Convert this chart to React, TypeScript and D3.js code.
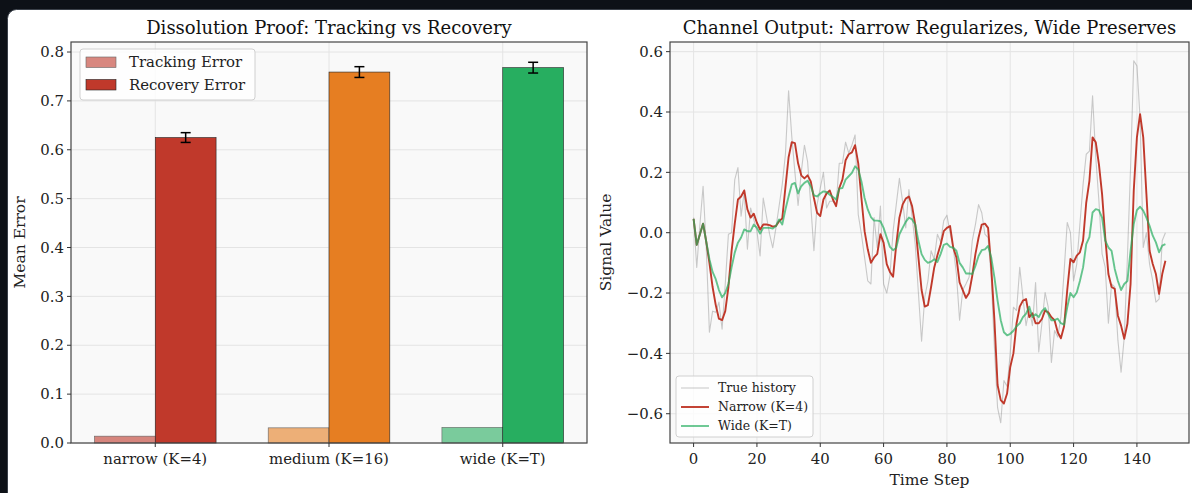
import React from "react";
import * as d3 from "d3";

// ---------- Data ----------
const channels = ["narrow (K=4)", "medium (K=16)", "wide (K=T)"];
const trackingError = [0.014, 0.031, 0.032];
const recoveryError = [0.625, 0.759, 0.768];
const recoveryStd = [0.010, 0.011, 0.011];
const channelColors = ["#c0392b", "#e67e22", "#27ae60"];
const barYTicks = [0, 0.1, 0.2, 0.3, 0.4, 0.5, 0.6, 0.7, 0.8];

const trueHistory = [
  0.05, -0.115, 0.027, 0.154, -0.05, -0.33, -0.26, -0.264, -0.23, -0.32,
  -0.17, -0.005, 0.0, 0.176, 0.216, 0.055, 0.137, -0.055, 0.082, 0.044,
  0.005, -0.077, 0.115, 0.055, -0.005, -0.05, 0.016, 0.088, 0.16, 0.26,
  0.47, 0.32, 0.2, 0.09, 0.2, 0.29, 0.236, 0.093, -0.06, 0.093,
  0.148, 0.2, 0.082, 0.104, 0.104, 0.093, 0.23, 0.23, 0.3, 0.264,
  0.29, 0.324, 0.06, -0.005, -0.082, -0.16, -0.17, 0.05, -0.05, 0.088,
  -0.17, -0.2, -0.143, 0.005, 0.093, 0.18, 0.104, 0.016, 0.143, 0.055,
  -0.04, -0.2, -0.36, -0.214, -0.16, -0.06, -0.088, -0.005, -0.03, 0.04,
  0.058, 0.0, -0.05, -0.137, -0.29, -0.19, -0.17, -0.148, -0.027, 0.027,
  0.093, 0.066, -0.005, -0.016, -0.148, -0.38, -0.58, -0.63, -0.49, -0.51,
  -0.4, -0.247, -0.258, -0.115, -0.214, -0.308, -0.253, -0.308, -0.165, -0.395,
  -0.3, -0.198, -0.247, -0.43, -0.324, -0.346, -0.28, -0.13, 0.034, 0.0,
  -0.16, -0.104, 0.029, 0.16, 0.26, 0.27, 0.454, 0.25, 0.106, -0.07,
  -0.115, -0.3, -0.17, -0.18, -0.357, -0.462, -0.347, -0.082, 0.216, 0.57,
  0.553, 0.38, -0.049, 0.0, -0.104, -0.16, -0.23, -0.22, -0.026, 0.0,
];

const narrowOutput = [
  0.046, -0.04, -0.005, 0.03, -0.03, -0.1, -0.18, -0.24, -0.285, -0.29,
  -0.26, -0.18, -0.06, 0.03, 0.11, 0.12, 0.14, 0.077, 0.05, 0.063,
  0.033, 0.01, 0.027, 0.027, 0.025, 0.02, 0.022, 0.038, 0.047, 0.15,
  0.25, 0.3, 0.297, 0.23, 0.19, 0.18, 0.19, 0.17, 0.115, 0.066,
  0.055, 0.11, 0.13, 0.14, 0.11, 0.088, 0.148, 0.176, 0.24, 0.26,
  0.266, 0.29, 0.23, 0.115, 0.005, -0.055, -0.1, -0.082, -0.07, -0.005,
  -0.033, -0.104, -0.13, -0.146, -0.04, 0.05, 0.093, 0.113, 0.12, 0.088,
  0.027, -0.082, -0.19, -0.245, -0.24, -0.18, -0.115, -0.075, -0.04, 0.005,
  0.016, 0.022, -0.05, -0.082, -0.165, -0.19, -0.216, -0.2, -0.143, -0.071,
  -0.016, 0.027, 0.03, 0.016, -0.115, -0.29, -0.505, -0.555, -0.566, -0.533,
  -0.445, -0.4, -0.3, -0.245, -0.225, -0.22, -0.28, -0.267, -0.3, -0.3,
  -0.286, -0.258, -0.264, -0.28, -0.29, -0.33, -0.35, -0.31, -0.19, -0.087,
  -0.098, -0.076, -0.065, -0.026, 0.1, 0.172, 0.316, 0.3, 0.227, 0.128,
  -0.015, -0.137, -0.18, -0.186, -0.275, -0.308, -0.352, -0.302, -0.17, 0.139,
  0.316, 0.393, 0.316, 0.128, -0.06, -0.104, -0.137, -0.203, -0.137, -0.093,
];

const wideOutput = [
  0.046, -0.04, -0.005, 0.03, -0.03, -0.088, -0.13, -0.154, -0.19, -0.214,
  -0.2, -0.17, -0.115, -0.066, -0.033, -0.016, 0.011, 0.005, 0.005, 0.027,
  0.016, -0.003, 0.016, 0.016, 0.016, 0.014, 0.022, 0.044, 0.027, 0.077,
  0.12, 0.16, 0.165, 0.13, 0.154, 0.165, 0.172, 0.154, 0.124, 0.12,
  0.13, 0.137, 0.135, 0.126, 0.118, 0.11, 0.146, 0.148, 0.176, 0.187,
  0.198, 0.22, 0.21, 0.17, 0.115, 0.077, 0.052, 0.04, 0.04, 0.038,
  0.016, -0.016, -0.047, -0.058, -0.05, -0.005, 0.016, 0.036, 0.05, 0.044,
  0.027, -0.027, -0.071, -0.09, -0.1, -0.096, -0.088, -0.097, -0.071, -0.04,
  -0.036, -0.047, -0.05, -0.06, -0.1, -0.115, -0.135, -0.135, -0.137, -0.11,
  -0.077, -0.058, -0.055, -0.044, -0.082, -0.148, -0.225, -0.29, -0.33, -0.34,
  -0.335, -0.325, -0.31, -0.3, -0.28, -0.268, -0.245, -0.28, -0.27, -0.28,
  -0.26, -0.25, -0.27, -0.29, -0.29, -0.285, -0.3, -0.305, -0.247, -0.2,
  -0.214, -0.198, -0.16, -0.115, -0.038, -0.015, 0.067, 0.078, 0.075, 0.05,
  -0.026, -0.049, -0.06, -0.12, -0.16, -0.19, -0.17, -0.16, -0.06, 0.029,
  0.075, 0.086, 0.073, 0.05, 0.023, -0.01, -0.032, -0.065, -0.043, -0.038,
];

const signalYTicks = [-0.6, -0.4, -0.2, 0.0, 0.2, 0.4, 0.6];
const timeTicks = [0, 20, 40, 60, 80, 100, 120, 140];

const W = 1192;
const H = 493;
const FONT = "'DejaVu Serif', serif";
const TICK_FS = 14.9;
const LABEL_FS = 15.5;
const TITLE_FS = 18;

const fmtNeg = (v: number, d: number) => {
  const s = Math.abs(v).toFixed(d);
  return v < -1e-9 ? "\u2212" + s : s;
};

function BarPanel() {
  const left = 71, right = 587, top = 42, bottom = 443;
  const x = d3.scaleLinear().domain([-0.485, 2.485]).range([left, right]);
  const y = d3.scaleLinear().domain([0, 0.8205]).range([bottom, top]);
  const bw = x(0.35) - x(0);
  const idx = channels.map((_, i) => i);
  return (
    <g>
      <rect x={left} y={top} width={right - left} height={bottom - top} fill="#f9f9f9" />
      {barYTicks.map((t) => (
        <line key={"gy" + t} x1={left} x2={right} y1={y(t)} y2={y(t)} stroke="#e4e4e4" strokeWidth={1} />
      ))}
      {idx.map((i) => (
        <line key={"gx" + i} x1={x(i)} x2={x(i)} y1={top} y2={bottom} stroke="#e4e4e4" strokeWidth={1} />
      ))}
      {idx.map((i) => (
        <g key={"b" + i}>
          <rect
            x={x(i - 0.35)}
            y={y(trackingError[i])}
            width={bw}
            height={y(0) - y(trackingError[i])}
            fill={channelColors[i]}
            stroke="#000"
            strokeWidth={0.6}
            opacity={0.6}
          />
          <rect
            x={x(i)}
            y={y(recoveryError[i])}
            width={bw}
            height={y(0) - y(recoveryError[i])}
            fill={channelColors[i]}
            stroke="#222"
            strokeWidth={0.6}
          />
          <line
            x1={x(i + 0.175)}
            x2={x(i + 0.175)}
            y1={y(recoveryError[i] - recoveryStd[i])}
            y2={y(recoveryError[i] + recoveryStd[i])}
            stroke="#000"
            strokeWidth={1.5}
          />
          {[-1, 1].map((s) => (
            <line
              key={s}
              x1={x(i + 0.175) - 5}
              x2={x(i + 0.175) + 5}
              y1={y(recoveryError[i] + s * recoveryStd[i])}
              y2={y(recoveryError[i] + s * recoveryStd[i])}
              stroke="#000"
              strokeWidth={1.5}
            />
          ))}
        </g>
      ))}
      <rect x={left} y={top} width={right - left} height={bottom - top} fill="none" stroke="#444" strokeWidth={1.2} />
      {barYTicks.map((t) => (
        <g key={"ty" + t}>
          <line x1={left - 4} x2={left} y1={y(t)} y2={y(t)} stroke="#333" strokeWidth={1} />
          <text x={left - 7} y={y(t)} dy="0.35em" textAnchor="end" fontSize={TICK_FS} fill="#222">
            {t.toFixed(1)}
          </text>
        </g>
      ))}
      {idx.map((i) => (
        <g key={"tx" + i}>
          <line x1={x(i)} x2={x(i)} y1={bottom} y2={bottom + 4} stroke="#333" strokeWidth={1} />
          <text x={x(i)} y={bottom + 21} textAnchor="middle" fontSize={TICK_FS} fill="#222">
            {channels[i]}
          </text>
        </g>
      ))}
      <text
        transform={`translate(${25},${(top + bottom) / 2}) rotate(-90)`}
        textAnchor="middle"
        fontSize={LABEL_FS}
        fill="#222"
      >
        Mean Error
      </text>
      <text x={(left + right) / 2} y={34} textAnchor="middle" fontSize={TITLE_FS} fill="#111">
        Dissolution Proof: Tracking vs Recovery
      </text>
      {/* legend */}
      <g>
        <rect x={80} y={49} width={175} height={51} rx={3} fill="#ffffff" fillOpacity={0.8} stroke="#d0d0d0" />
        <rect x={86} y={57} width={30} height={10.5} fill={channelColors[0]} opacity={0.6} stroke="#000" strokeWidth={0.6} />
        <text x={129} y={62} dy="0.35em" fontSize={TICK_FS} fill="#222">Tracking Error</text>
        <rect x={86} y={79.5} width={30} height={10.5} fill={channelColors[0]} stroke="#222" strokeWidth={0.6} />
        <text x={129} y={85} dy="0.35em" fontSize={TICK_FS} fill="#222">Recovery Error</text>
      </g>
    </g>
  );
}

function LinePanel() {
  const left = 670, right = 1189, top = 42, bottom = 443;
  const x = d3.scaleLinear().domain([-7.45, 156.45]).range([left, right]);
  const y = d3.scaleLinear().domain([-0.697, 0.632]).range([bottom, top]);
  const line = d3
    .line<number>()
    .x((_, i) => x(i))
    .y((d) => y(d));
  return (
    <g>
      <defs>
        <clipPath id="clipR">
          <rect x={left} y={top} width={right - left} height={bottom - top} />
        </clipPath>
      </defs>
      <rect x={left} y={top} width={right - left} height={bottom - top} fill="#f9f9f9" />
      {signalYTicks.map((t) => (
        <line key={"gy" + t} x1={left} x2={right} y1={y(t)} y2={y(t)} stroke="#e4e4e4" strokeWidth={1} />
      ))}
      {timeTicks.map((t) => (
        <line key={"gx" + t} x1={x(t)} x2={x(t)} y1={top} y2={bottom} stroke="#e4e4e4" strokeWidth={1} />
      ))}
      <g clipPath="url(#clipR)" fill="none" strokeLinejoin="round">
        <path d={line(trueHistory) || ""} stroke="#808080" strokeOpacity={0.4} strokeWidth={1.1} />
        <path d={line(narrowOutput) || ""} stroke="#c0392b" strokeWidth={1.9} />
        <path d={line(wideOutput) || ""} stroke="#27ae60" strokeOpacity={0.7} strokeWidth={1.9} />
      </g>
      <rect x={left} y={top} width={right - left} height={bottom - top} fill="none" stroke="#444" strokeWidth={1.2} />
      {signalYTicks.map((t) => (
        <g key={"ty" + t}>
          <line x1={left - 4} x2={left} y1={y(t)} y2={y(t)} stroke="#333" strokeWidth={1} />
          <text x={left - 7} y={y(t)} dy="0.35em" textAnchor="end" fontSize={TICK_FS} fill="#222">
            {fmtNeg(t, 1)}
          </text>
        </g>
      ))}
      {timeTicks.map((t) => (
        <g key={"tx" + t}>
          <line x1={x(t)} x2={x(t)} y1={bottom} y2={bottom + 4} stroke="#333" strokeWidth={1} />
          <text x={x(t)} y={bottom + 21} textAnchor="middle" fontSize={TICK_FS} fill="#222">
            {t}
          </text>
        </g>
      ))}
      <text
        transform={`translate(${611},${(top + bottom) / 2}) rotate(-90)`}
        textAnchor="middle"
        fontSize={LABEL_FS}
        fill="#222"
      >
        Signal Value
      </text>
      <text x={(left + right) / 2} y={485} textAnchor="middle" fontSize={LABEL_FS} fill="#222">
        Time Step
      </text>
      <text x={(left + right) / 2} y={34} textAnchor="middle" fontSize={TITLE_FS} fill="#111">
        Channel Output: Narrow Regularizes, Wide Preserves
      </text>
      {/* legend */}
      <g>
        <rect x={676} y={376} width={137} height={61} rx={3} fill="#ffffff" fillOpacity={0.8} stroke="#d0d0d0" />
        <line x1={681} x2={709} y1={388} y2={388} stroke="#808080" strokeOpacity={0.4} strokeWidth={1.1} />
        <text x={718} y={388} dy="0.35em" fontSize={12.5} fill="#222">True history</text>
        <line x1={681} x2={709} y1={407} y2={407} stroke="#c0392b" strokeWidth={1.9} />
        <text x={718} y={407} dy="0.35em" fontSize={12.5} fill="#222">Narrow (K=4)</text>
        <line x1={681} x2={709} y1={426} y2={426} stroke="#27ae60" strokeOpacity={0.7} strokeWidth={1.9} />
        <text x={718} y={426} dy="0.35em" fontSize={12.5} fill="#222">Wide (K=T)</text>
      </g>
    </g>
  );
}

export default function App() {
  return (
    <div style={{ position: "absolute", left: 0, top: 0, width: W, height: H }}>
      <svg width={W} height={H} viewBox={`0 0 ${W} ${H}`} style={{ display: "block", fontFamily: FONT }}>
        <rect x={0} y={0} width={W} height={H} fill="#0d1117" />
        <rect x={7.5} y={9.5} width={W + 20} height={H + 20} rx={9} fill="#ffffff" stroke="#3a4049" strokeWidth={1} />
        <BarPanel />
        <LinePanel />
      </svg>
    </div>
  );
}
